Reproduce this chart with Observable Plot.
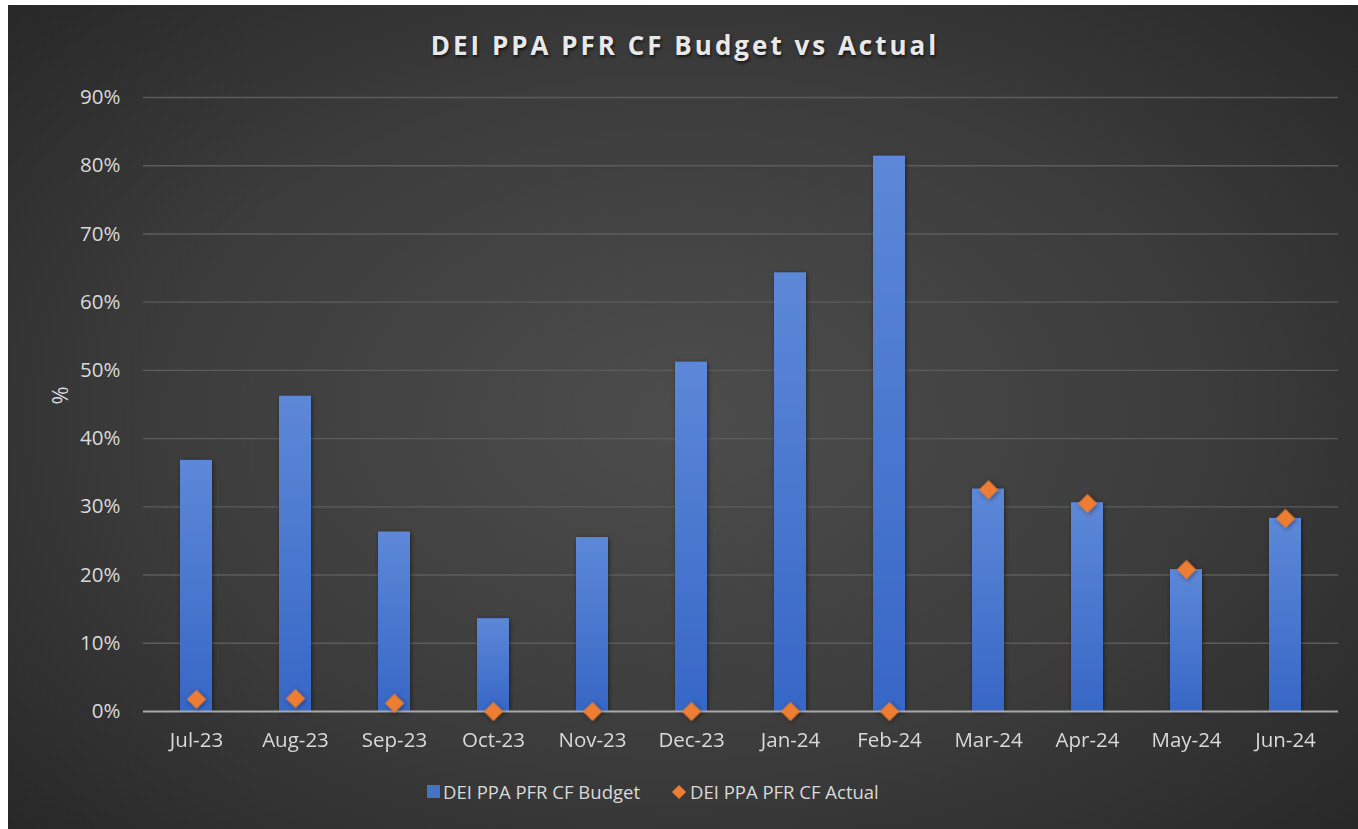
<!DOCTYPE html>
<html><head><meta charset="utf-8">
<script src="https://cdn.jsdelivr.net/npm/d3@7"></script>
<script src="https://cdn.jsdelivr.net/npm/@observablehq/plot@0.6"></script>
<style>
body{margin:0;background:#fff;}
#frame{position:absolute;left:8px;top:5px;width:1350px;height:824px;overflow:hidden;
  background:radial-gradient(ellipse 70% 75% at 50% 50%, #4d4d4d 0%, #3c3c3c 55%, #272727 100%);
  font-family:"Open Sans",sans-serif;color:#d9d9d9;}
#title{position:absolute;top:22px;left:2px;width:100%;text-align:center;font-size:26px;font-weight:bold;letter-spacing:3px;color:#e8e8e8;text-shadow:1px 2px 3px rgba(0,0,0,0.65);}
#chart{position:absolute;left:0;top:70px;}
#legend{position:absolute;top:774px;left:419px;display:flex;align-items:center;font-size:18.5px;color:#d9d9d9;white-space:nowrap;}
.sw{display:inline-block;width:13px;height:13px;margin-right:3px;}
.dm{display:inline-block;width:10px;height:10px;background:#ED7D31;transform:rotate(45deg);margin-right:6px;margin-left:34px;}
</style></head>
<body>
<div id="frame">
  <div id="title">DEI PPA PFR CF Budget vs Actual</div>
  <div id="chart"></div>
  <div id="legend"><span class="sw" style="background:#4472C4"></span><span>DEI PPA PFR CF Budget</span><span class="dm"></span><span>DEI PPA PFR CF Actual</span></div>
</div>
<script>
const months = ["Jul-23","Aug-23","Sep-23","Oct-23","Nov-23","Dec-23","Jan-24","Feb-24","Mar-24","Apr-24","May-24","Jun-24"];
const budget = [36.8, 46.2, 26.3, 13.6, 25.5, 51.2, 64.3, 81.4, 32.6, 30.6, 20.8, 28.3];
const actual = [1.8, 1.9, 1.2, 0, 0, 0, 0, 0, 32.5, 30.5, 20.8, 28.3];
const yTicks = [0,10,20,30,40,50,60,70,80,90];

const data = months.map((m,i)=>({month:m, budget:budget[i], actual:actual[i]}));

const plot = Plot.plot({
  width: 1350,
  height: 695,
  marginTop: 22,
  marginBottom: 59,
  marginLeft: 135,
  marginRight: 20,
  style: {background:"transparent", color:"#d9d9d9", fontSize:"20.5px", fontFamily:"'Open Sans', sans-serif", overflow:"visible"},
  x: {domain: months, paddingInner: 0.68, paddingOuter: 0.34, label: null},
  y: {domain: [0, 90], label: null},
  marks: [
    Plot.gridY(yTicks.filter(d=>d>0), {stroke:"#5c5c5c", strokeOpacity:1, strokeWidth:1.4}),
    Plot.barY(data, {x:"month", y:"budget", fill:"url(#barGrad)"}),
    Plot.ruleY([0], {stroke:"#a8a8a8", strokeWidth:2}),
    Plot.dot(data, {x:"month", y:"actual", symbol:"diamond2", r:8.6, fill:"#ED7D31"}),
    Plot.axisY({ticks: yTicks, tickFormat: d => d + "%", tickSize: 0, tickPadding: 23, label: null, fill:"#d9d9d9", fontSize: 20.5}),
    Plot.axisX({tickSize: 0, tickPadding: 21, label: null, fill:"#d9d9d9", fontSize: 20.5}),
    Plot.text(["%"], {frameAnchor:"left", dx:-83, rotate:-90, fill:"#d9d9d9", fontSize:22})
  ]
});

const svg = d3.select(plot);
const defs = svg.insert("defs", ":first-child");
const g = defs.append("linearGradient").attr("id","barGrad").attr("x1",0).attr("y1",0).attr("x2",0).attr("y2",1);
g.append("stop").attr("offset","0%").attr("stop-color","#5d88d8");
g.append("stop").attr("offset","100%").attr("stop-color","#3767c6");
const f = defs.append("filter").attr("id","shadow").attr("x","-30%").attr("y","-30%").attr("width","160%").attr("height","160%");
f.append("feDropShadow").attr("dx",1).attr("dy",1).attr("stdDeviation",2).attr("flood-color","#000").attr("flood-opacity",0.5);
svg.selectAll("g[aria-label='bar'], g[aria-label='dot']").attr("filter","url(#shadow)");

document.getElementById("chart").appendChild(plot);
</script>
</body></html>
